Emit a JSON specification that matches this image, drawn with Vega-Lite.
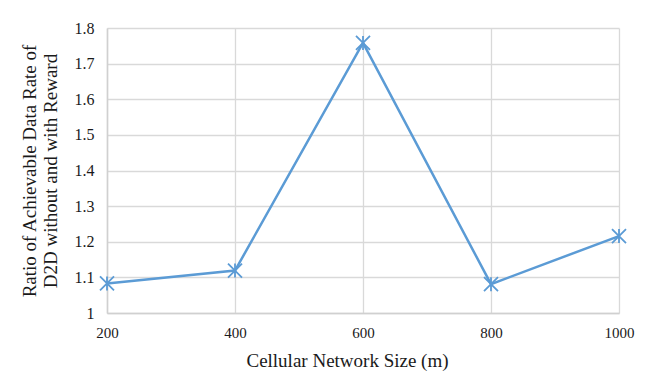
{
  "$schema": "https://vega.github.io/schema/vega-lite/v6.json",
  "width": 512,
  "height": 285,
  "autosize": {"type": "none"},
  "padding": {"left": 107, "top": 28, "right": 26, "bottom": 72},
  "background": "white",
  "data": {
    "values": [
      {"size": 200, "ratio": 1.083},
      {"size": 400, "ratio": 1.119},
      {"size": 600, "ratio": 1.758},
      {"size": 800, "ratio": 1.081},
      {"size": 1000, "ratio": 1.216}
    ]
  },
  "encoding": {
    "x": {
      "field": "size",
      "type": "quantitative",
      "scale": {"domain": [200, 1000], "nice": false, "zero": false},
      "axis": {
        "title": "Cellular Network Size (m)",
        "values": [200, 400, 600, 800, 1000],
        "format": "d",
        "labelFlush": false,
        "grid": true,
        "ticks": false,
        "labelPadding": 12,
        "titlePadding": 11,
        "titleX": 240
      }
    },
    "y": {
      "field": "ratio",
      "type": "quantitative",
      "scale": {"domain": [1, 1.8], "nice": false, "zero": false},
      "axis": {
        "title": ["Ratio of Achievable Data Rate of", "D2D without and with Reward"],
        "values": [1, 1.1, 1.2, 1.3, 1.4, 1.5, 1.6, 1.7, 1.8],
        "format": ".1~f",
        "labelFlush": false,
        "labelFontSize": 16,
        "grid": true,
        "ticks": false,
        "labelPadding": 13,
        "titlePadding": 14,
        "titleLineHeight": 21
      }
    }
  },
  "layer": [
    {
      "mark": {"type": "line", "color": "#5b9bd5", "strokeWidth": 2.5}
    },
    {
      "mark": {
        "type": "point",
        "shape": "M-1,-1L1,1M-1,1L1,-1M0,-1L0,1",
        "filled": false,
        "stroke": "#5b9bd5",
        "strokeWidth": 1.8,
        "size": 196,
        "opacity": 1
      }
    }
  ],
  "config": {
    "view": {"stroke": null},
    "axis": {
      "labelFont": "'Liberation Serif', 'Times New Roman', Times, serif",
      "titleFont": "'Liberation Serif', 'Times New Roman', Times, serif",
      "labelFontSize": 15,
      "titleFontSize": 19,
      "titleFontWeight": "normal",
      "labelColor": "#1a1a1a",
      "titleColor": "#1a1a1a",
      "gridColor": "#d9d9d9",
      "gridWidth": 1.3,
      "domainColor": "#d0d0d0",
      "domainWidth": 1.5
    }
  }
}
